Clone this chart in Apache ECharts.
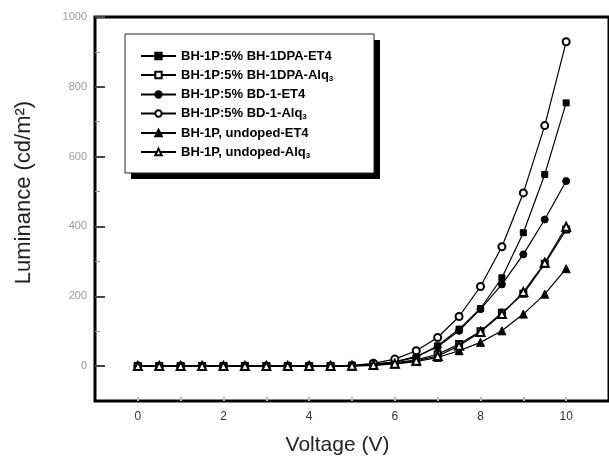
<!DOCTYPE html>
<html><head><meta charset="utf-8">
<script src="https://cdn.jsdelivr.net/npm/echarts@6/dist/echarts.min.js"></script>
<style>html,body{margin:0;padding:0;background:#fff}#c{width:609px;height:461px}</style>
</head><body><div id="c"></div>
<script>
const voltage = [0,0.5,1,1.5,2,2.5,3,3.5,4,4.5,5,5.5,6,6.5,7,7.5,8,8.5,9,9.5,10];
const names = ["BH-1P:5% BH-1DPA-ET4","BH-1P:5% BH-1DPA-Alq3","BH-1P:5% BD-1-ET4","BH-1P:5% BD-1-Alq3","BH-1P, undoped-ET4","BH-1P, undoped-Alq3"];
const dpaET4  = [0,0,0,0,0,0,0,0,0,0,1,5,12,25,58,106,165,253,382,549,754];
const dpaAlq3 = [0,0,0,0,0,0,0,0,0,0,1,4,9,18,34,63,100,153,207,293,391];
const bdET4   = [0,0,0,0,0,0,0,0,0,0,1,5,12,28,55,101,163,234,320,420,530];
const bdAlq3  = [0,0,0,0,0,0,0,0,0,0,2,8,20,44,82,142,228,342,496,689,929];
const undET4  = [0,0,0,0,0,0,0,0,0,0,0,2,6,13,25,44,68,101,149,206,279];
const undAlq3 = [0,0,0,0,0,0,0,0,0,0,1,3,7,15,29,58,98,149,212,296,399];
const xTicks = [0,2,4,6,8,10];
const xMinor = [0,1,2,3,4,5,6,7,8,9,10];
const yTicks = [0,200,400,600,800,1000];
const seriesValues = [dpaET4,dpaAlq3,bdET4,bdAlq3,undET4,undAlq3];
const symbols = ['rect','emptyRect','circle','emptyCircle','triangle','emptyTriangle'];
const sizes = [6,6,7,7,8,8];

const chart = echarts.init(document.getElementById('c'));
const FONT = 'Liberation Sans, Arial, sans-serif';
chart.setOption({
  animation:false,
  backgroundColor:'#fff',
  grid:{left:95, top:17, width:523.2, height:385, show:true, borderColor:'#000', borderWidth:3, containLabel:false},
  graphic:[
    {type:'rect', shape:{x:131,y:40,width:249,height:139}, style:{fill:'#000'}, z:10},
    {type:'rect', shape:{x:125,y:34,width:249,height:139}, style:{fill:'#fff', stroke:'#222', lineWidth:1}, z:11}
  ],
  legend:{
    show:true, z:20, left:140, top:49, padding:0, orient:'vertical', itemWidth:35, itemHeight:8, itemGap:5,
    data:names,
    formatter:function(n){ return n.replace(/Alq3$/, 'Alq{s|3}'); },
    textStyle:{fontFamily:FONT, fontWeight:'bold', fontSize:13, color:'#000', lineHeight:14,
      rich:{s:{fontSize:8, fontWeight:'bold', fontFamily:FONT, color:'#000', padding:[7,0,0,0]}}}
  },
  xAxis:{
    type:'value', min:-1, max:11,
    name:'Voltage (V)', nameLocation:'middle', nameGap:34,
    nameTextStyle:{fontFamily:FONT, fontSize:21, color:'#222', padding:[0,29,0,0]},
    axisLine:{show:false, onZero:false}, splitLine:{show:false},
    axisTick:{show:true, inside:true, length:4, customValues:xMinor, lineStyle:{color:'#bbb', width:2}},
    axisLabel:{customValues:xTicks, fontFamily:FONT, fontSize:12, color:'#333', margin:10}
  },
  yAxis:{
    type:'value', min:-100, max:1000,
    name:'Luminance (cd/m\u00B2)', nameLocation:'middle', nameGap:60, nameRotate:90,
    nameTextStyle:{fontFamily:FONT, fontSize:22, color:'#222', padding:[0,0,0,33]},
    axisLine:{show:false, onZero:false}, splitLine:{show:false},
    axisTick:{show:true, inside:true, length:10, customValues:yTicks, lineStyle:{color:'#444', width:2}},
    minorTick:{show:true, splitNumber:2, length:5, lineStyle:{color:'#999', width:1}},
    axisLabel:{customValues:yTicks, formatter:function(v){return String(v);}, fontFamily:FONT, fontSize:11, color:'#999', margin:8}
  },
  series: seriesValues.map((vals,i)=>({
    name:names[i], type:'line', data:voltage.map((v,j)=>[v,vals[j]]),
    symbol:symbols[i], symbolSize:sizes[i], showSymbol:true,
    lineStyle:{color:'#000', width:1.2}, itemStyle:{color:'#000', borderColor:'#000', borderWidth:1},
    z:5+i
  }))
});
</script></body></html>
